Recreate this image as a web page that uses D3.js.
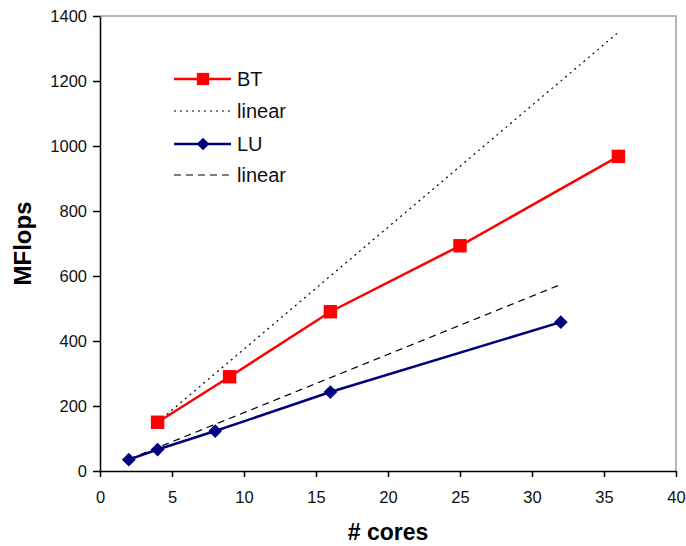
<!DOCTYPE html>
<html>
<head>
<meta charset="utf-8">
<script src="https://cdn.jsdelivr.net/npm/d3@7"></script>
<style>
  body { margin: 0; background: #fff; }
  text { font-family: Arial, "Liberation Sans", sans-serif; }
</style>
</head>
<body>
<div id="chart"></div>
<script>
// data
var btCores = [4, 9, 16, 25, 36];
var btMflops = [150, 290, 490, 693, 968];
var btLinear = [150, 1350];          // at btCores first and last
var luCores = [2, 4, 8, 16, 32];
var luMflops = [35, 66, 123, 243, 458];
var luLinear = [36, 574];            // at luCores first and last
var xTicks = [0, 5, 10, 15, 20, 25, 30, 35, 40];
var yTicks = [0, 200, 400, 600, 800, 1000, 1200, 1400];
var legendLabels = ["BT", "linear", "LU", "linear"];

var W = 686, H = 546;
var margin = {top: 16, right: 10, bottom: 75, left: 100},
    width = 676 - margin.left,
    height = 471 - margin.top;

const svg = d3.select("#chart").append("svg")
    .attr("width", W).attr("height", H);
const g = svg.append("g")
    .attr("transform", `translate(${margin.left},${margin.top})`);

const x = d3.scaleLinear().domain([0, 40]).range([0, width]);
const y = d3.scaleLinear().domain([0, 1400]).range([height, 0]);

// plot area border (top + right grey)
g.append("path")
    .attr("d", `M0,0H${width}V${height}`)
    .attr("fill", "none")
    .attr("stroke", "#a0a0a0")
    .attr("stroke-width", 1.5);

// axes
const xAxis = g.append("g")
    .attr("transform", `translate(0,${height})`)
    .call(d3.axisBottom(x).tickValues(xTicks).tickFormat(d3.format("d"))
        .tickSize(6).tickPadding(14).tickSizeOuter(0));
const yAxis = g.append("g")
    .call(d3.axisLeft(y).tickValues(yTicks).tickFormat(d3.format("d"))
        .tickSize(7).tickPadding(6).tickSizeOuter(0));
[xAxis, yAxis].forEach(a => {
    a.select(".domain").attr("stroke", "#000").attr("stroke-width", 1.5);
    a.selectAll(".tick line").attr("stroke", "#000").attr("stroke-width", 1.5);
    a.selectAll(".tick text")
        .attr("fill", "#111")
        .style("font-size", "16.5px")
        .style("font-family", "Arial, 'Liberation Sans', sans-serif");
});

// linear reference lines
const line = d3.line().x(d => x(d[0])).y(d => y(d[1]));
g.append("path")
    .datum([[btCores[0], btLinear[0]], [btCores[btCores.length - 1], btLinear[1]]])
    .attr("d", line)
    .attr("fill", "none").attr("stroke", "#000")
    .attr("stroke-width", 1.2).attr("stroke-dasharray", "2,4");
g.append("path")
    .datum([[luCores[0], luLinear[0]], [luCores[luCores.length - 1], luLinear[1]]])
    .attr("d", line)
    .attr("fill", "none").attr("stroke", "#000")
    .attr("stroke-width", 1.2).attr("stroke-dasharray", "7,5");

// BT series
const btData = btCores.map((c, i) => [c, btMflops[i]]);
g.append("path").datum(btData).attr("d", line)
    .attr("fill", "none").attr("stroke", "#ff0000").attr("stroke-width", 2.5);
g.selectAll(".bt").data(btData).enter().append("path")
    .attr("class", "bt")
    .attr("transform", d => `translate(${x(d[0])},${y(d[1])})`)
    .attr("d", d3.symbol(d3.symbolSquare, 180))
    .attr("fill", "#ff0000");

// LU series
const luData = luCores.map((c, i) => [c, luMflops[i]]);
g.append("path").datum(luData).attr("d", line)
    .attr("fill", "none").attr("stroke", "#000080").attr("stroke-width", 2.5);
g.selectAll(".lu").data(luData).enter().append("path")
    .attr("class", "lu")
    .attr("transform", d => `translate(${x(d[0])},${y(d[1])}) rotate(45)`)
    .attr("d", d3.symbol(d3.symbolSquare, 95))
    .attr("fill", "#000080");

// legend
const legend = svg.append("g");
const legendY = [79, 111, 144, 175];
const styles = [
    {stroke: "#ff0000", w: 2.5, dash: null, marker: "square"},
    {stroke: "#000", w: 1.2, dash: "2,4", marker: null},
    {stroke: "#000080", w: 2.5, dash: null, marker: "diamond"},
    {stroke: "#000", w: 1.2, dash: "7,5", marker: null}
];
legendLabels.forEach((lab, i) => {
    const s = styles[i], ly = legendY[i];
    legend.append("line")
        .attr("x1", 174).attr("x2", 231).attr("y1", ly).attr("y2", ly)
        .attr("stroke", s.stroke).attr("stroke-width", s.w)
        .attr("stroke-dasharray", s.dash);
    if (s.marker == "square") {
        legend.append("path")
            .attr("transform", `translate(203,${ly})`)
            .attr("d", d3.symbol(d3.symbolSquare, 150))
            .attr("fill", s.stroke);
    } else if (s.marker == "diamond") {
        legend.append("path")
            .attr("transform", `translate(203,${ly}) rotate(45)`)
            .attr("d", d3.symbol(d3.symbolSquare, 80))
            .attr("fill", s.stroke);
    }
    legend.append("text")
        .attr("x", 237).attr("y", ly + 7)
        .attr("fill", "#111")
        .style("font-size", "20px")
        .text(lab);
});

// axis titles
svg.append("text")
    .attr("x", (margin.left + 676) / 2).attr("y", 540)
    .attr("text-anchor", "middle")
    .style("font-size", "23px").style("font-weight", "bold")
    .text("# cores");
svg.append("text")
    .attr("transform", `translate(31,${margin.top + height / 2}) rotate(-90)`)
    .attr("text-anchor", "middle")
    .style("font-size", "24px").style("font-weight", "bold")
    .text("MFlops");
</script>
</body>
</html>
